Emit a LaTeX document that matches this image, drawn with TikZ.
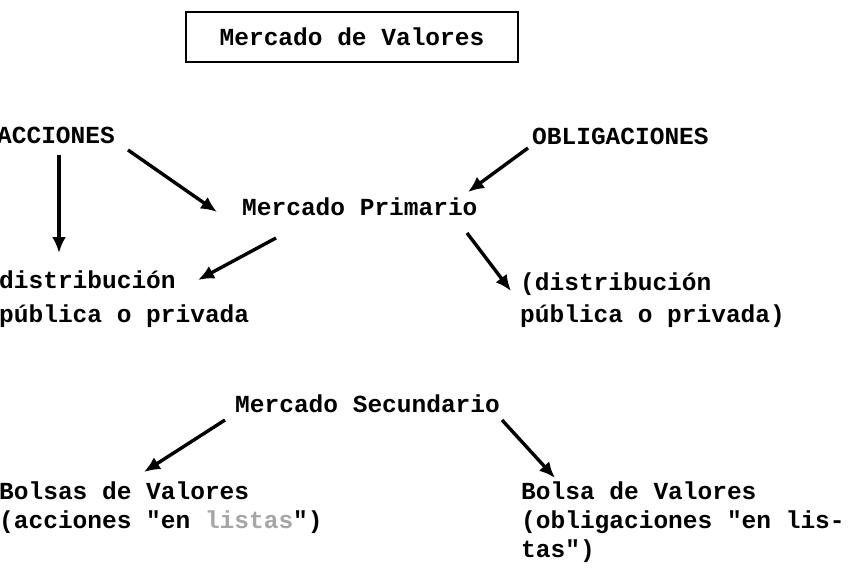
\documentclass[tikz,border=0pt]{standalone}
\usepackage{fontspec}
\newfontfamily\tw{Liberation Mono}
\usetikzlibrary{arrows.meta}
\tikzset{
  txt/.style={inner sep=0pt, anchor=base west, font=\tw\bfseries\fontsize{24.5}{29}\selectfont},
  titlebox/.style={draw, line width=2.8pt, minimum width=332pt, minimum height=50pt, inner sep=0pt, font=\tw\bfseries\fontsize{24.5}{29}\selectfont},
  arr/.style={line width=3.4pt, -{Latex[length=16pt,width=14pt]}}
}
\begin{document}
\begin{tikzpicture}[x=1pt,y=-1pt]
\useasboundingbox (0,0) rectangle (850,572);
\fill[white] (0,0) rectangle (850,572);
\node[titlebox] (title) at (352,37) {Mercado de Valores};
\node[txt] (acc) at (-3,144) {ACCIONES};
\node[txt] (obl) at (532,145) {OBLIGACIONES};
\node[txt] (mprim) at (242,215) {Mercado Primario};
\node[txt] (distL) at (-1,288) {distribución};
\node[txt] (distL2) at (-1,322) {pública o privada};
\node[txt] (distR) at (520,290) {(distribución};
\node[txt] (distR2) at (520,322) {pública o privada)};
\node[txt] (mseg) at (235,412) {Mercado Secundario};
\node[txt] (bolL) at (-1,499) {Bolsas de Valores};
\node[txt] (bolL2) at (-1,528) {(acciones "en {\color{black!35}listas}")};
\node[txt] (bolR) at (521,499) {Bolsa de Valores};
\node[txt] (bolR2) at (521,528) {(obligaciones "en lis-};
\node[txt] (bolR3) at (521,557) {tas")};
\draw[arr] ([shift={(62,11)}]acc.base west) -- ([shift={(60,-35)}]distL.base west);
\draw[arr] ([shift={(131,6)}]acc.base west) -- ([shift={(-25,-3)}]mprim.base west);
\draw[arr] ([shift={(-4,3)}]obl.base west) -- ([shift={(226,-23)}]mprim.base west);
\draw[arr] ([shift={(34,23)}]mprim.base west) -- ([shift={(199,-8)}]distL.base west);
\draw[arr] ([shift={(225,18)}]mprim.base west) -- ([shift={(-9,1)}]distR.base west);
\draw[arr] ([shift={(-10,8)}]mseg.base west) -- ([shift={(145,-27)}]bolL.base west);
\draw[arr] ([shift={(267,8)}]mseg.base west) -- ([shift={(34,-21)}]bolR.base west);
\end{tikzpicture}
\end{document}
